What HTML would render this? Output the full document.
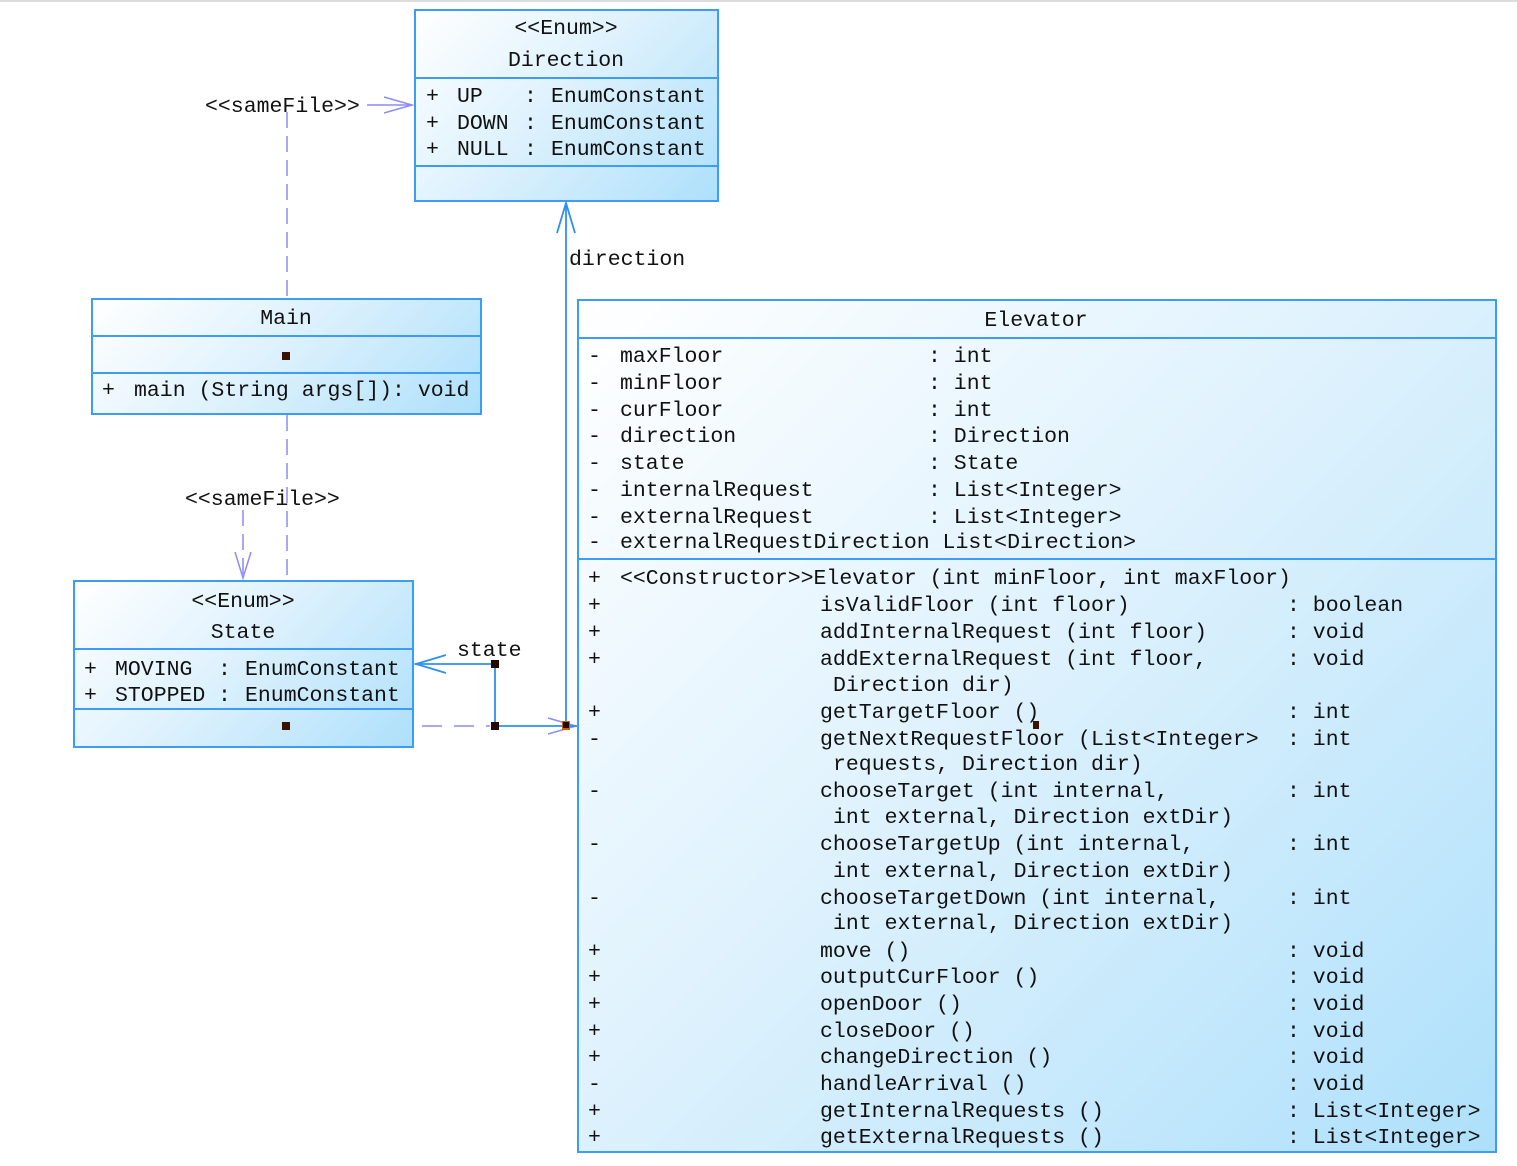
<!DOCTYPE html>
<html><head><meta charset="utf-8"><style>
html,body{margin:0;padding:0;background:#fff;}
body{width:1517px;height:1166px;position:relative;overflow:hidden;font-family:"Liberation Mono","DejaVu Sans Mono",monospace;font-size:21.5px;color:#111;}
.b{position:absolute;border:2px solid #3d9cf5;box-sizing:border-box;background:linear-gradient(135deg,#ffffff 0%,#dff2fd 45%,#aee0fb 100%);}
.h{position:absolute;left:0;right:0;height:0;border-top:2px solid #3d9cf5;}
.t{position:absolute;white-space:pre;line-height:24px;margin-top:2px;}
.c{position:absolute;white-space:pre;line-height:24px;margin-top:2px;transform:translateX(-50%);}
.sq{position:absolute;width:8px;height:8px;background:#3a1200;}
svg{position:absolute;left:0;top:0;}
</style></head><body>
<div style="position:absolute;left:0;top:0;width:1517px;height:2px;background:#ddd"></div>

<!-- Direction -->
<div class="b" style="left:414px;top:9px;width:305px;height:193px;">
  <div class="h" style="top:66px"></div>
  <div class="h" style="top:154px"></div>
</div>
<div class="c" style="left:566px;top:15px">&lt;&lt;Enum&gt;&gt;</div>
<div class="c" style="left:566px;top:47px">Direction</div>
<div class="t" style="left:426px;top:83px">+</div><div class="t" style="left:457px;top:83px">UP</div><div class="t" style="left:524px;top:83px">:</div><div class="t" style="left:551px;top:83px">EnumConstant</div>
<div class="t" style="left:426px;top:110px">+</div><div class="t" style="left:457px;top:110px">DOWN</div><div class="t" style="left:524px;top:110px">:</div><div class="t" style="left:551px;top:110px">EnumConstant</div>
<div class="t" style="left:426px;top:136px">+</div><div class="t" style="left:457px;top:136px">NULL</div><div class="t" style="left:524px;top:136px">:</div><div class="t" style="left:551px;top:136px">EnumConstant</div>

<!-- Main -->
<div class="b" style="left:91px;top:298px;width:391px;height:117px;">
  <div class="h" style="top:35px"></div>
  <div class="h" style="top:72px"></div>
</div>
<div class="c" style="left:286px;top:305px">Main</div>
<div class="sq" style="left:282px;top:352px"></div>
<div class="t" style="left:102px;top:377px">+</div><div class="t" style="left:134px;top:377px">main (String args[]): void</div>

<!-- State -->
<div class="b" style="left:73px;top:580px;width:341px;height:168px;">
  <div class="h" style="top:66px"></div>
  <div class="h" style="top:126px"></div>
</div>
<div class="c" style="left:243px;top:588px">&lt;&lt;Enum&gt;&gt;</div>
<div class="c" style="left:243px;top:619px">State</div>
<div class="t" style="left:84px;top:656px">+</div><div class="t" style="left:115px;top:656px">MOVING</div><div class="t" style="left:218px;top:656px">:</div><div class="t" style="left:245px;top:656px">EnumConstant</div>
<div class="t" style="left:84px;top:682px">+</div><div class="t" style="left:115px;top:682px">STOPPED</div><div class="t" style="left:218px;top:682px">:</div><div class="t" style="left:245px;top:682px">EnumConstant</div>
<div class="sq" style="left:282px;top:722px"></div>

<!-- Elevator -->
<div class="b" style="left:577px;top:299px;width:920px;height:854px;">
  <div class="h" style="top:36px"></div>
  <div class="h" style="top:257px"></div>
</div>
<div class="c" style="left:1036px;top:307px">Elevator</div>
<div class="t" style="left:588px;top:343px">-</div><div class="t" style="left:620px;top:343px">maxFloor</div><div class="t" style="left:928px;top:343px">: int</div>
<div class="t" style="left:588px;top:370px">-</div><div class="t" style="left:620px;top:370px">minFloor</div><div class="t" style="left:928px;top:370px">: int</div>
<div class="t" style="left:588px;top:397px">-</div><div class="t" style="left:620px;top:397px">curFloor</div><div class="t" style="left:928px;top:397px">: int</div>
<div class="t" style="left:588px;top:423px">-</div><div class="t" style="left:620px;top:423px">direction</div><div class="t" style="left:928px;top:423px">: Direction</div>
<div class="t" style="left:588px;top:450px">-</div><div class="t" style="left:620px;top:450px">state</div><div class="t" style="left:928px;top:450px">: State</div>
<div class="t" style="left:588px;top:477px">-</div><div class="t" style="left:620px;top:477px">internalRequest</div><div class="t" style="left:928px;top:477px">: List&lt;Integer&gt;</div>
<div class="t" style="left:588px;top:504px">-</div><div class="t" style="left:620px;top:504px">externalRequest</div><div class="t" style="left:928px;top:504px">: List&lt;Integer&gt;</div>
<div class="t" style="left:588px;top:529px">-</div><div class="t" style="left:620px;top:529px">externalRequestDirection List&lt;Direction&gt;</div>

<div class="t" style="left:588px;top:565px">+</div><div class="t" style="left:620px;top:565px">&lt;&lt;Constructor&gt;&gt;Elevator (int minFloor, int maxFloor)</div>
<div class="t" style="left:588px;top:592px">+</div><div class="t" style="left:820px;top:592px">isValidFloor (int floor)</div><div class="t" style="left:1287px;top:592px">: boolean</div>
<div class="t" style="left:588px;top:619px">+</div><div class="t" style="left:820px;top:619px">addInternalRequest (int floor)</div><div class="t" style="left:1287px;top:619px">: void</div>
<div class="t" style="left:588px;top:646px">+</div><div class="t" style="left:820px;top:646px">addExternalRequest (int floor,</div><div class="t" style="left:1287px;top:646px">: void</div>
<div class="t" style="left:833px;top:672px">Direction dir)</div>
<div class="t" style="left:588px;top:699px">+</div><div class="t" style="left:820px;top:699px">getTargetFloor ()</div><div class="t" style="left:1287px;top:699px">: int</div>
<div class="sq" style="left:1033px;top:721px;width:6px;height:8px"></div>
<div class="t" style="left:588px;top:726px">-</div><div class="t" style="left:820px;top:726px">getNextRequestFloor (List&lt;Integer&gt;</div><div class="t" style="left:1287px;top:726px">: int</div>
<div class="t" style="left:833px;top:751px">requests, Direction dir)</div>
<div class="t" style="left:588px;top:778px">-</div><div class="t" style="left:820px;top:778px">chooseTarget (int internal,</div><div class="t" style="left:1287px;top:778px">: int</div>
<div class="t" style="left:833px;top:804px">int external, Direction extDir)</div>
<div class="t" style="left:588px;top:831px">-</div><div class="t" style="left:820px;top:831px">chooseTargetUp (int internal,</div><div class="t" style="left:1287px;top:831px">: int</div>
<div class="t" style="left:833px;top:858px">int external, Direction extDir)</div>
<div class="t" style="left:588px;top:885px">-</div><div class="t" style="left:820px;top:885px">chooseTargetDown (int internal,</div><div class="t" style="left:1287px;top:885px">: int</div>
<div class="t" style="left:833px;top:910px">int external, Direction extDir)</div>
<div class="t" style="left:588px;top:938px">+</div><div class="t" style="left:820px;top:938px">move ()</div><div class="t" style="left:1287px;top:938px">: void</div>
<div class="t" style="left:588px;top:964px">+</div><div class="t" style="left:820px;top:964px">outputCurFloor ()</div><div class="t" style="left:1287px;top:964px">: void</div>
<div class="t" style="left:588px;top:991px">+</div><div class="t" style="left:820px;top:991px">openDoor ()</div><div class="t" style="left:1287px;top:991px">: void</div>
<div class="t" style="left:588px;top:1018px">+</div><div class="t" style="left:820px;top:1018px">closeDoor ()</div><div class="t" style="left:1287px;top:1018px">: void</div>
<div class="t" style="left:588px;top:1044px">+</div><div class="t" style="left:820px;top:1044px">changeDirection ()</div><div class="t" style="left:1287px;top:1044px">: void</div>
<div class="t" style="left:588px;top:1071px">-</div><div class="t" style="left:820px;top:1071px">handleArrival ()</div><div class="t" style="left:1287px;top:1071px">: void</div>
<div class="t" style="left:588px;top:1098px">+</div><div class="t" style="left:820px;top:1098px">getInternalRequests ()</div><div class="t" style="left:1287px;top:1098px">: List&lt;Integer&gt;</div>
<div class="t" style="left:588px;top:1124px">+</div><div class="t" style="left:820px;top:1124px">getExternalRequests ()</div><div class="t" style="left:1287px;top:1124px">: List&lt;Integer&gt;</div>

<!-- connectors -->
<svg width="1517" height="1166">
  <g stroke="#8c8cf5" stroke-width="1.5" fill="none">
    <line x1="287" y1="112" x2="287" y2="298" stroke-dasharray="16,8"/>
    <line x1="367" y1="105" x2="412" y2="105"/>
    <polyline points="384,97 412,105 384,113"/>
    <line x1="287" y1="415" x2="287" y2="580" stroke-dasharray="16,8"/>
    <line x1="243" y1="510" x2="243" y2="578" stroke-dasharray="16,8"/>
    <polyline points="235,552 243,578 251,552"/>
    <line x1="422" y1="726" x2="490" y2="726" stroke-dasharray="20,12"/>
    <polyline points="548,718 576,726 548,734"/>
  </g>
  <g stroke="#2e8ff0" stroke-width="1.8" fill="none">
    <line x1="566" y1="725" x2="566" y2="203"/>
    <polyline points="557,233 566,203 575,233"/>
    <polyline points="415,664 495,664 495,726 577,726"/>
    <polyline points="446,655 416,664 446,673"/>
  </g>
  <rect x="491" y="660" width="8" height="8" fill="#220800"/>
  <rect x="491" y="722" width="8" height="8" fill="#220800"/>
  <rect x="562" y="721" width="8" height="9" fill="#c86400"/>
  <rect x="563" y="722" width="6" height="6" fill="#220800"/>
</svg>
<div class="t" style="left:205px;top:93px">&lt;&lt;sameFile&gt;&gt;</div>
<div class="t" style="left:185px;top:486px">&lt;&lt;sameFile&gt;&gt;</div>
<div class="t" style="left:569px;top:246px">direction</div>
<div class="t" style="left:457px;top:637px">state</div>
</body></html>
